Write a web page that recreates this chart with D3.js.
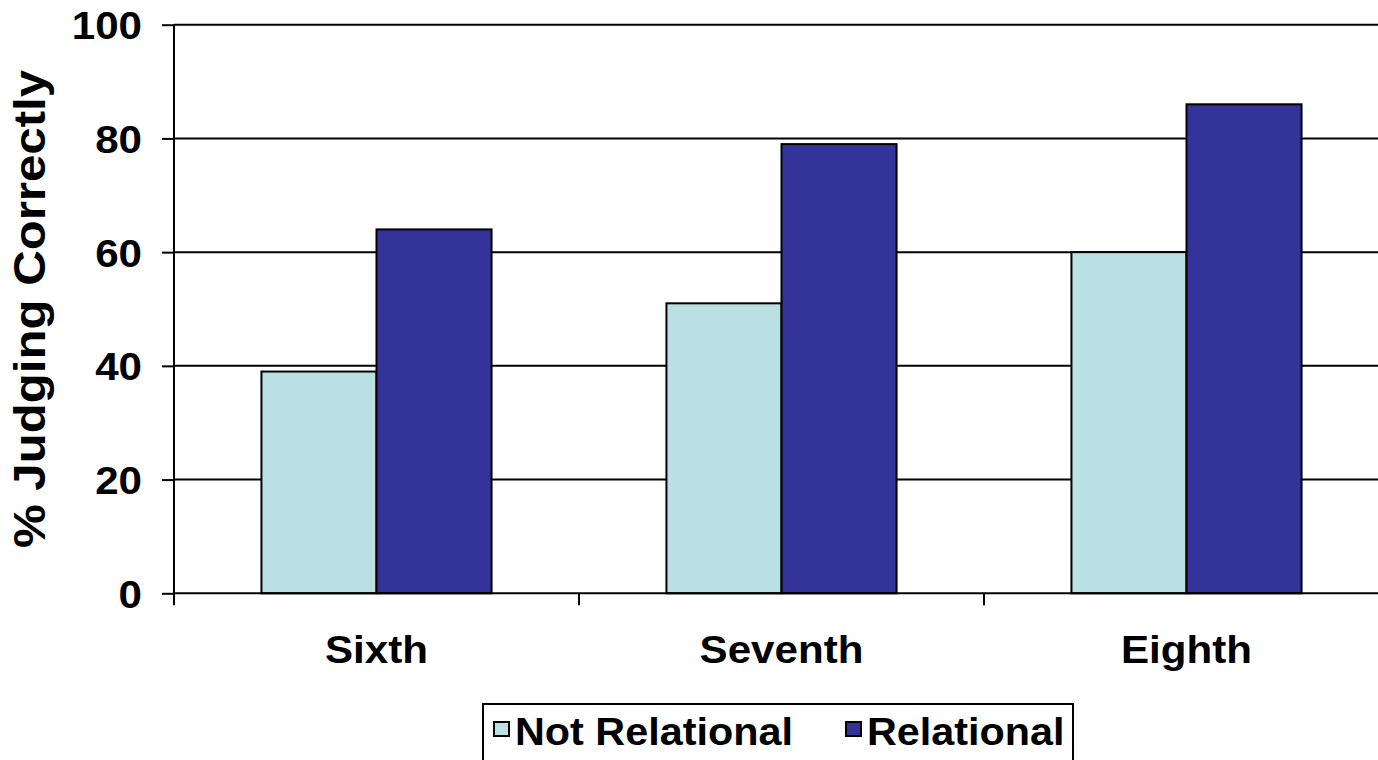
<!DOCTYPE html>
<html>
<head>
<meta charset="utf-8">
<script src="https://cdn.jsdelivr.net/npm/d3@7"></script>
<style>
  html, body { margin: 0; padding: 0; background: #fff; overflow: hidden; }
  svg { display: block; }
  text { font-family: "Liberation Sans", Arial, sans-serif; font-weight: bold; fill: #000; }
</style>
</head>
<body>
<svg id="chart" width="1378" height="760"></svg>
<script>
// Grade levels and the share of students judging correctly in each condition
const categories = ["Sixth", "Seventh", "Eighth"];
const seriesNames = ["Not Relational", "Relational"];
const notRelational = [39, 51, 60];
const relational = [64, 79, 86];
const yTicks = [0, 20, 40, 60, 80, 100];
const yTitle = "% Judging Correctly";

const colors = { "Not Relational": "#BBE0E3", "Relational": "#333399" };
const values = { "Not Relational": notRelational, "Relational": relational };

const svg = d3.select("#chart");

const left = 174, bandW = 405;
const yTop = 24.7, yBottom = 593.3;
const fontSize = 39, widen = 1.08;

// Stretch text horizontally a little, the way the original export renders it
function stretch(sel, k) {
  sel.each(function () {
    const w = this.getComputedTextLength();
    d3.select(this).attr("textLength", w * k).attr("lengthAdjust", "spacingAndGlyphs");
  });
}

const x0 = d3.scaleBand().domain(categories).range([left, left + bandW * categories.length]).padding(0);
const x1 = d3.scaleBand().domain(seriesNames).range([0, x0.bandwidth()]).paddingInner(0).paddingOuter(0.76);
const y = d3.scaleLinear().domain([0, 100]).range([yBottom, yTop]);

// Horizontal gridlines
svg.append("g").selectAll("line").data(yTicks.filter(d => d > 0)).join("line")
  .attr("x1", left).attr("x2", x0.range()[1])
  .attr("y1", d => y(d)).attr("y2", d => y(d))
  .attr("stroke", "#000").attr("stroke-width", 2);

// Bars
const groups = svg.append("g").selectAll("g").data(categories).join("g")
  .attr("transform", d => `translate(${x0(d)},0)`);
groups.selectAll("rect")
  .data((c, i) => seriesNames.map(s => ({ s, v: values[s][i] })))
  .join("rect")
  .attr("x", d => x1(d.s))
  .attr("width", x1.bandwidth())
  .attr("y", d => y(d.v))
  .attr("height", d => y(0) - y(d.v))
  .attr("fill", d => colors[d.s])
  .attr("stroke", "#000").attr("stroke-width", 2);

// Y axis
const yAxis = d3.axisLeft(y).tickValues(yTicks).tickSize(12).tickPadding(20).tickFormat(d3.format("d"));
const gy = svg.append("g").attr("transform", `translate(${left},0)`).call(yAxis);
gy.select(".domain").attr("stroke", "#000").attr("stroke-width", 2).attr("d", `M0,${yTop}V${yBottom}`);
gy.selectAll(".tick line").attr("stroke", "#000").attr("stroke-width", 2);
gy.selectAll(".tick text").attr("font-size", fontSize).attr("dy", "0.36em")
  .style("font-family", '"Liberation Sans", Arial, sans-serif').style("font-weight", "bold")
  .call(stretch, widen);

// X axis with ticks at category boundaries
const gx = svg.append("g").attr("transform", `translate(0,${yBottom})`);
gx.append("line").attr("x1", left).attr("x2", x0.range()[1]).attr("y1", 0).attr("y2", 0)
  .attr("stroke", "#000").attr("stroke-width", 2);
gx.selectAll("line.tk").data(categories).join("line").attr("class", "tk")
  .attr("x1", d => x0(d)).attr("x2", d => x0(d)).attr("y1", 0).attr("y2", 12)
  .attr("stroke", "#000").attr("stroke-width", 2);
gx.selectAll("text").data(categories).join("text")
  .attr("x", d => x0(d) + x0.bandwidth() / 2).attr("y", 70)
  .attr("text-anchor", "middle").attr("font-size", fontSize).text(d => d)
  .call(stretch, widen);

// Y title
svg.append("text")
  .attr("transform", "translate(45,309) rotate(-90)")
  .attr("text-anchor", "middle").attr("font-size", 44)
  .attr("textLength", 478).attr("lengthAdjust", "spacingAndGlyphs")
  .text(yTitle);

// Legend
const lg = svg.append("g");
lg.append("rect").attr("x", 483).attr("y", 704).attr("width", 590).attr("height", 70)
  .attr("fill", "#fff").attr("stroke", "#000").attr("stroke-width", 2);
const legendPos = [{ sx: 494, tx: 515 }, { sx: 846, tx: 867 }];
seriesNames.forEach((s, i) => {
  lg.append("rect").attr("x", legendPos[i].sx).attr("y", 722).attr("width", 15).attr("height", 14)
    .attr("fill", colors[s]).attr("stroke", "#000").attr("stroke-width", 2);
  lg.append("text").attr("x", legendPos[i].tx).attr("y", 745).attr("font-size", fontSize).text(s)
    .call(stretch, 1.06);
});
</script>
</body>
</html>
